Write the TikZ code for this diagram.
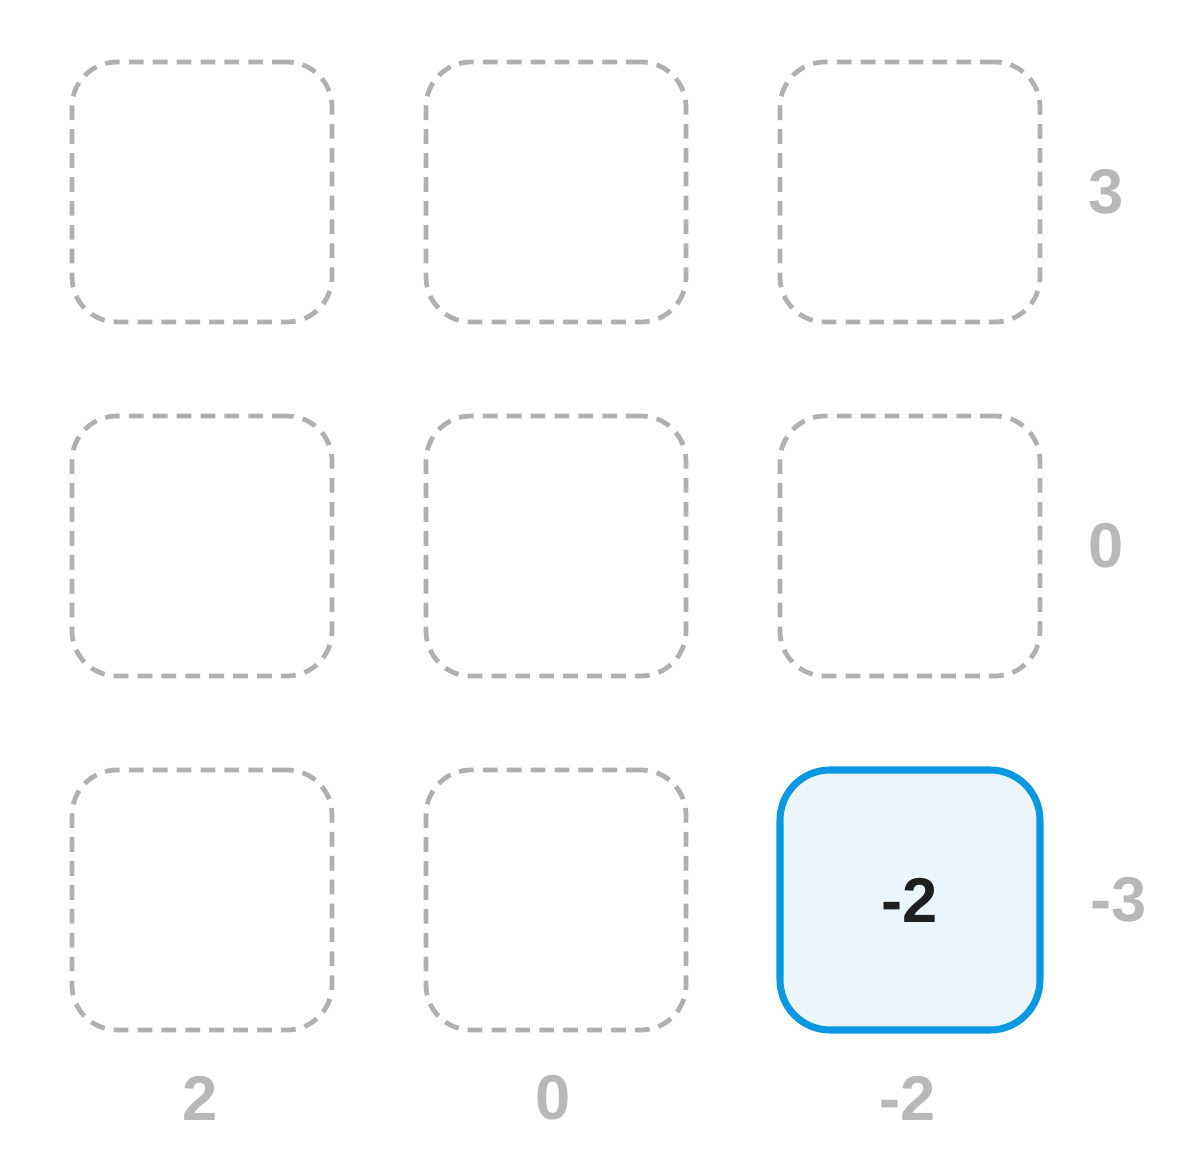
\documentclass[tikz,border=0pt]{standalone}
\usepackage{fontspec}
\setmainfont{Liberation Sans}
\definecolor{cellgray}{HTML}{B0B0B0}
\definecolor{labelgray}{HTML}{B8B8B8}
\definecolor{pickblue}{HTML}{0A98E0}
\definecolor{pickfill}{HTML}{EBF5FC}
\tikzset{
  cell/.style={draw=cellgray, line width=1.35pt, dash pattern=on 4.2pt off 2.6pt,
    rounded corners=0.45cm, minimum size=2.6cm, inner sep=0pt},
  pick/.style={draw=pickblue, fill=pickfill, line width=2pt, solid,
    rounded corners=0.5cm, minimum size=2.6cm, inner sep=0pt,
    font=\fontsize{18}{20}\selectfont\bfseries, text=black!88},
  sumlabel/.style={text=labelgray, font=\fontsize{18}{20}\selectfont\bfseries, inner sep=0pt}
}
\begin{document}
\begin{tikzpicture}
  \useasboundingbox (0,0) rectangle (12,11.66);
  \foreach \r/\c in {0/0,0/1,0/2,1/0,1/1,1/2,2/0,2/1} % empty cells
    \node[cell] (cell\r\c) at ({2.02+3.54*\c},{9.74-3.54*\r}) {};

  % chosen cell
  \node[pick] (cell22) at ({2.02+3.54*2},{9.74-3.54*2}) {-2};

  % row sums
  \node[sumlabel, anchor=west] (row0) at (10.88,9.74) {3};
  \node[sumlabel, anchor=west] (row1) at (10.88,6.20) {0};
  \node[sumlabel, anchor=west] (row2) at (10.90,2.66) {-3};

  % column sums
  \node[sumlabel] (col0) at (2.00,0.68) {2};
  \node[sumlabel] (col1) at (5.53,0.68) {0};
  \node[sumlabel] (col2) at (9.08,0.68) {-2};
\end{tikzpicture}
\end{document}
